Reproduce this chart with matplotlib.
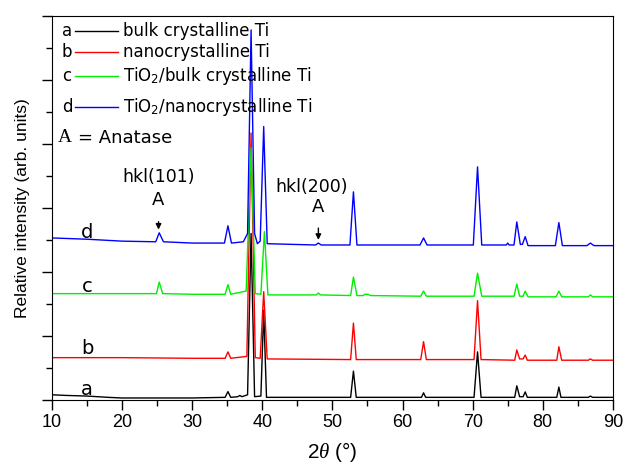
import matplotlib
matplotlib.use("Agg")
import matplotlib.pyplot as plt

plt.rcParams["font.family"] = ["DejaVu Sans"]
plt.rcParams["mathtext.fontset"] = "custom"
plt.rcParams["mathtext.rm"] = "DejaVu Sans"
plt.rcParams["mathtext.it"] = "Liberation Serif:italic"

# 2theta / relative intensity (offset traces)
a_x = [10, 12, 15, 18, 20, 30, 34.7, 35.1, 35.5, 36.5, 36.8, 37.1, 37.9, 38.4, 38.9, 39.8, 40.2, 40.6,
       52.6, 53.0, 53.4, 62.7, 63.0, 63.3, 70.2, 70.7, 71.2, 76.0, 76.3, 76.7, 77.2, 77.5, 77.8,
       82.0, 82.3, 82.6, 86.5, 86.8, 87.1, 90]
a_y = [0.08, 0.07, 0.06, 0.04, 0.03, 0.03, 0.04, 0.13, 0.04, 0.05, 0.07, 0.05, 0.08, 2.6, 0.05, 0.06, 1.4, 0.04,
       0.04, 0.45, 0.04, 0.04, 0.11, 0.04, 0.04, 0.75, 0.04, 0.04, 0.22, 0.05, 0.05, 0.125, 0.04,
       0.04, 0.2, 0.04, 0.04, 0.06, 0.04, 0.04]

b_x = [10, 20, 30, 34.7, 35.1, 35.5, 37.8, 38.4, 39.0, 39.7, 40.2, 40.7, 52.6, 53.0, 53.4,
       62.6, 63.0, 63.4, 70.2, 70.7, 71.2, 76.0, 76.3, 76.7, 77.2, 77.5, 77.8, 82.0, 82.3, 82.7,
       86.5, 86.8, 87.1, 90]
b_y = [0.66, 0.66, 0.65, 0.65, 0.75, 0.65, 0.68, 4.17, 0.66, 0.65, 1.69, 0.64, 0.63, 1.2, 0.63,
       0.63, 0.91, 0.63, 0.63, 1.55, 0.63, 0.62, 0.78, 0.64, 0.64, 0.70, 0.62, 0.62, 0.83, 0.62,
       0.62, 0.64, 0.62, 0.62]

c_x = [10, 20, 24.9, 25.3, 25.8, 30, 34.7, 35.1, 35.5, 37.7, 38.4, 39.0, 39.8, 40.3, 40.8,
       47.7, 48.0, 48.3, 52.6, 53.0, 53.5, 54.4, 54.6, 55.1, 55.4, 62.6, 63.0, 63.4,
       70.2, 70.7, 71.3, 75.9, 76.3, 76.7, 77.2, 77.5, 77.9, 81.9, 82.3, 82.7, 86.5, 86.8, 87.1, 90]
c_y = [1.66, 1.66, 1.66, 1.84, 1.66, 1.65, 1.65, 1.80, 1.65, 1.70, 3.94, 1.66, 1.65, 2.63, 1.64,
       1.64, 1.67, 1.64, 1.63, 1.92, 1.63, 1.63, 1.65, 1.65, 1.63, 1.62, 1.70, 1.62,
       1.62, 1.98, 1.62, 1.62, 1.81, 1.62, 1.62, 1.70, 1.61, 1.61, 1.70, 1.61, 1.61, 1.64, 1.61, 1.61]

d_x = [10, 15, 20, 24.8, 25.3, 25.9, 30, 34.6, 35.1, 35.6, 37.3, 37.9, 38.4, 38.9, 39.3, 39.7, 40.2, 40.7,
       47.6, 48.0, 48.4, 52.5, 53.0, 53.5, 62.5, 63.0, 63.5, 70.1, 70.7, 71.3, 74.8, 75.0, 75.2,
       75.9, 76.3, 76.8, 77.1, 77.5, 77.9, 81.8, 82.3, 82.8, 86.3, 86.8, 87.3, 90]
d_y = [2.53, 2.51, 2.48, 2.47, 2.61, 2.47, 2.45, 2.45, 2.72, 2.45, 2.47, 2.60, 5.78, 2.60, 2.44, 2.48, 4.27, 2.44,
       2.42, 2.45, 2.42, 2.42, 3.25, 2.42, 2.42, 2.53, 2.42, 2.42, 3.64, 2.42, 2.42, 2.45, 2.42,
       2.42, 2.78, 2.43, 2.43, 2.55, 2.41, 2.41, 2.77, 2.41, 2.41, 2.45, 2.41, 2.41]

letters = ["a", "b", "c", "d"]
names = ["bulk crystalline Ti", "nanocrystalline Ti",
         "TiO$_2$/bulk crystalline Ti", "TiO$_2$/nanocrystalline Ti"]
colors = ["black", "#ff0000", "#00ee00", "#0000ff"]
xs = [a_x, b_x, c_x, d_x]
ys = [a_y, b_y, c_y, d_y]
letter_y = [0.16, 0.8, 1.77, 2.61]

fig = plt.figure(figsize=(6.26, 4.65), dpi=100)
ax = fig.add_axes([0.083, 0.140, 0.896, 0.826])

for x, y, col in zip(xs, ys, colors):
    ax.plot(x, y, color=col, lw=1.0)

for lt, ly in zip(letters, letter_y):
    ax.text(15.0, ly, lt, fontsize=14, ha="center", va="center")

# legend drawn by hand
leg_y = [0.961, 0.906, 0.844, 0.763]
for lt, nm, col, yy in zip(letters, names, colors, leg_y):
    ax.text(0.027, yy, lt, transform=ax.transAxes, fontsize=12, ha="center", va="center")
    ax.plot([0.041, 0.118], [yy, yy], transform=ax.transAxes, color=col, lw=1.0)
    ax.text(0.127, yy, nm, transform=ax.transAxes, fontsize=12, ha="left", va="center")
ax.text(0.011, 0.682, "A", transform=ax.transAxes, fontsize=14, family="Liberation Serif",
        ha="left", va="center")
ax.text(0.046, 0.682, "= Anatase", transform=ax.transAxes, fontsize=13, ha="left", va="center")

# anatase peak markers
ax.text(25.2, 3.48, "hkl(101)", fontsize=12.5, ha="center", va="center")
ax.annotate("A", xy=(25.2, 2.66), xytext=(25.2, 3.12), fontsize=13, ha="center", va="center",
            arrowprops=dict(arrowstyle="-|>", color="black", lw=1.0, mutation_scale=8, shrinkA=7, shrinkB=0))
ax.text(47.0, 3.33, "hkl(200)", fontsize=12.5, ha="center", va="center")
ax.annotate("A", xy=(48.0, 2.5), xytext=(48.0, 3.02), fontsize=13, ha="center", va="center",
            arrowprops=dict(arrowstyle="-|>", color="black", lw=1.0, mutation_scale=8, shrinkA=7, shrinkB=0))

ax.set_xlim(10, 90)
ax.set_ylim(0, 6)
ax.set_xticks(range(10, 91, 10))
ax.set_xticks(range(15, 90, 10), minor=True)
ax.set_yticks(range(0, 7))
ax.set_yticks([0.5 + i for i in range(6)], minor=True)
ax.set_yticklabels([])
ax.tick_params(which="major", length=7, width=1, labelsize=13)
ax.tick_params(which="minor", length=4, width=1)
for lab in ax.get_xticklabels():
    lab.set_family("Liberation Sans")
ax.set_xlabel(r"2$\theta$ (°)", fontsize=15, family="Liberation Sans", labelpad=6)
ax.set_ylabel("Relative intensity (arb. units)", fontsize=12.5, family="Liberation Sans", labelpad=5)

fig.savefig("out.png", dpi=100)
